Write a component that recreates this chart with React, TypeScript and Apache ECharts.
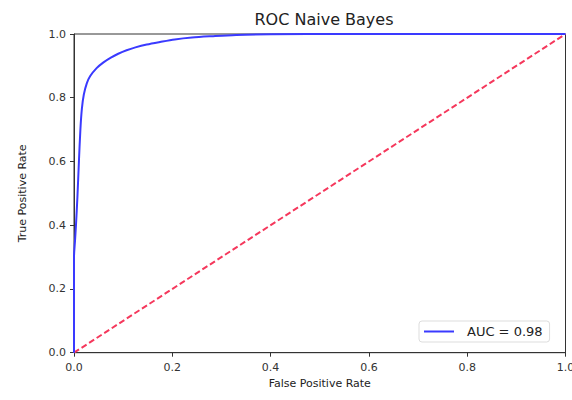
import React, { useEffect, useRef } from "react";
import * as echarts from "echarts";

const fpr = [0, 0, 0.002, 0.004, 0.007, 0.010, 0.013, 0.016, 0.020, 0.026, 0.033, 0.046, 0.06, 0.075, 0.09, 0.107, 0.125, 0.148, 0.175, 0.205, 0.24, 0.28, 0.33, 0.40, 0.55, 0.75, 1.0];
const tpr = [0, 0.30, 0.35, 0.40, 0.49, 0.60, 0.70, 0.765, 0.81, 0.845, 0.868, 0.893, 0.911, 0.926, 0.938, 0.949, 0.958, 0.967, 0.975, 0.983, 0.989, 0.993, 0.997, 0.999, 1.0, 1.0, 1.0];
const chanceX = [0, 1];
const chanceY = [0, 1];
const titleText = "ROC Naive Bayes";
const xName = "False Positive Rate";
const yName = "True Positive Rate";
const legendLabel = "AUC = 0.98";

const FONT = "DejaVu Sans";

export default function App() {
  const ref = useRef<HTMLDivElement>(null);
  useEffect(() => {
    if (!ref.current) return;
    const chart = echarts.init(ref.current, undefined, { renderer: "svg" });
    const axisCommon = {
      type: "value" as const,
      min: 0,
      max: 1,
      interval: 0.2,
      splitLine: { show: false },
      axisLine: { show: true, lineStyle: { color: "#333", width: 1 } },
      axisTick: { show: true, inside: false, length: 4, lineStyle: { color: "#333" } },
      axisLabel: {
        color: "#333",
        fontSize: 11,
        fontFamily: FONT,
        formatter: (v: number) => v.toFixed(1),
      },
      nameLocation: "middle" as const,
      nameTextStyle: { color: "#222", fontSize: 11, fontFamily: FONT },
    };
    chart.setOption({
      animation: false,
      backgroundColor: "#fff",
      title: {
        text: titleText,
        left: 319,
        textAlign: "center",
        top: 6,
        textStyle: { fontSize: 16, fontWeight: "normal", color: "#222", fontFamily: FONT },
      },
      grid: {
        left: 74,
        top: 34,
        right: 6.5,
        bottom: 47.3,
        show: true,
        borderColor: "#333",
        borderWidth: 1,
        containLabel: false,
        outerBoundsMode: "none",
      },
      xAxis: {
        ...axisCommon,
        name: xName,
        nameGap: 25,
        axisLabel: { ...axisCommon.axisLabel, margin: 9 },
      },
      yAxis: {
        ...axisCommon,
        name: yName,
        nameGap: 46,
        axisLabel: { ...axisCommon.axisLabel, margin: 8 },
      },
      legend: {
        left: 419,
        top: 321,
        orient: "horizontal",
        data: [{ name: legendLabel, icon: "rect" }],
        itemWidth: 30,
        itemHeight: 2,
        padding: [4, 7, 4, 5],
        backgroundColor: "#fff",
        borderColor: "#ddd",
        borderWidth: 1,
        borderRadius: 3,
        textStyle: { color: "#222", fontSize: 13, fontFamily: FONT, padding: [0, 0, 0, 8] },
      },
      series: [
        {
          name: legendLabel,
          type: "line",
          data: fpr.map((x, i) => [x, tpr[i]]),
          showSymbol: false,
          smooth: 0.3,
          lineStyle: { color: "#3a3aff", width: 2 },
          itemStyle: { color: "#3a3aff" },
          z: 3,
        },
        {
          name: "chance",
          type: "line",
          data: chanceX.map((x, i) => [x, chanceY[i]]),
          showSymbol: false,
          lineStyle: { color: "#f5385c", width: 2, type: [6, 3] },
          z: 2,
        },
      ],
    });
    return () => chart.dispose();
  }, []);
  return (
    <div
      ref={ref}
      style={{ position: "absolute", left: 0, top: 0, width: 572, height: 400 }}
    />
  );
}
